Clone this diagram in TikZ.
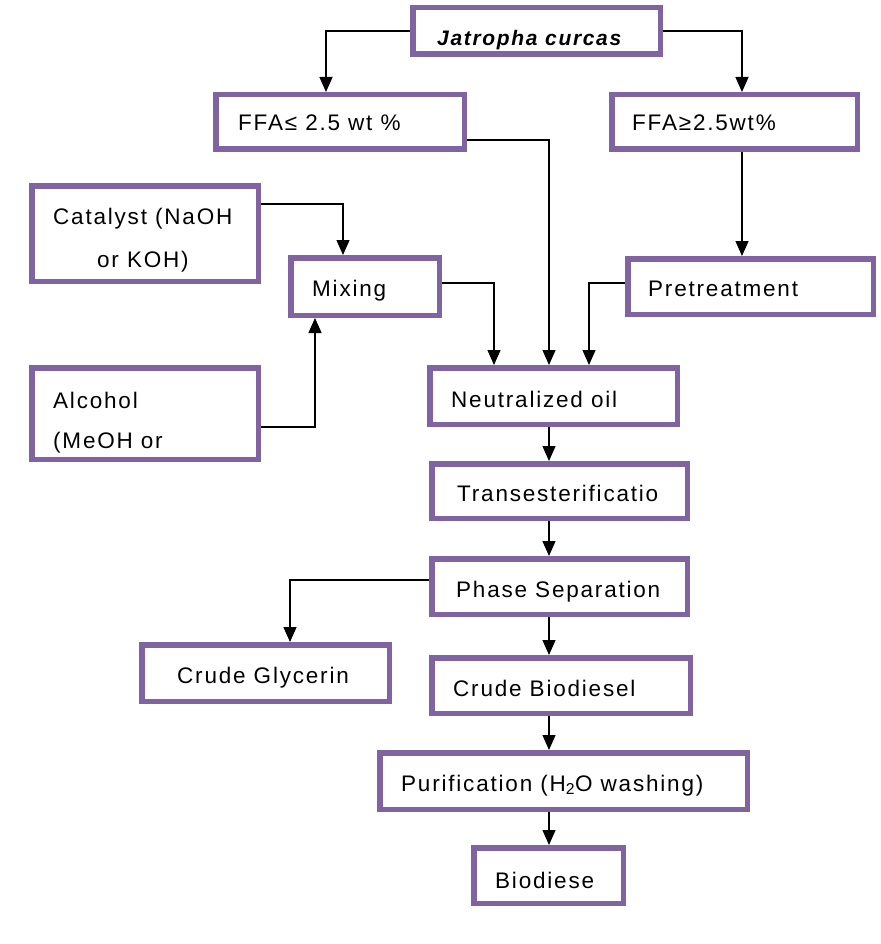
\documentclass[tikz,border=0pt]{standalone}
\usepackage{fontspec}
\setmainfont{Liberation Sans}[LetterSpace=8]
\usetikzlibrary{arrows.meta}
\definecolor{boxc}{HTML}{8064A2}
\begin{document}
\begin{tikzpicture}[x=1pt,y=-1pt,
  box/.style={draw=boxc,line width=5.5pt,rectangle,inner sep=0pt},
  txt/.style={anchor=base west,inner sep=0pt,font=\fontsize{22.5}{24}\selectfont},
  arr/.style={-{Triangle[length=15pt,width=13pt]},line width=1.3pt}]
\fill[white] (0,0) rectangle (880,944);
\useasboundingbox (0,0) rectangle (880,944);
\newcommand{\bx}[5]{\node[box,minimum width={#4-#2-5.5},minimum height={#5-#3-5.5}] (#1) at ({(#2+#4)/2},{(#3+#5)/2}) {};}
\bx{jc}{410}{5}{663}{57}
\bx{ffal}{213}{92}{467}{152}
\bx{ffag}{609}{92}{860}{152}
\bx{cat}{29}{183}{261}{284}
\bx{mix}{288}{255}{442}{318}
\bx{pre}{625}{256}{876}{317}
\bx{alc}{29}{365}{261}{462}
\bx{neu}{427}{365}{680}{427}
\bx{tra}{429}{461}{690}{521}
\bx{pha}{429}{556}{690}{617}
\bx{gly}{139}{642}{392}{704}
\bx{cbd}{429}{655}{693}{716}
\bx{pur}{377}{750}{750}{812}
\bx{bio}{471}{845}{626}{906}
\node[txt,font=\fontsize{21}{24}\selectfont\bfseries\itshape] (t1) at (437,46) {Jatropha curcas};
\node[txt] (t2) at (238,131) {FFA≤ 2.5 wt \%};
\node[txt] (t3) at (632,131) {FFA≥2.5wt\%};
\node[txt] (t4) at (53,224) {Catalyst (NaOH};
\node[txt] (t4b) at (97,267) {or KOH)};
\node[txt] (t5) at (312,296) {Mixing};
\node[txt] (t6) at (648,296) {Pretreatment};
\node[txt] (t7) at (53,408) {Alcohol};
\node[txt] (t7b) at (53,448) {(MeOH or};
\node[txt] (t8) at (451,407) {Neutralized oil};
\node[txt] (t9) at (457,501) {Transesterificatio};
\node[txt] (t10) at (456,597) {Phase Separation};
\node[txt] (t11) at (177,683) {Crude Glycerin};
\node[txt] (t12) at (453,696) {Crude Biodiesel};
\node[txt] (t13) at (401,791) {Purification (H\textsubscript{2}O washing)};
\node[txt] (t14) at (495,888) {Biodiese};
\draw[arr] (jc.west) -- (326,31) -- (326,92);
\draw[arr] (jc.east) -- (742,31) -- (742,92);
\draw[arr] (ffal.east |- 0,140) -- (549,140) -- (549,365);
\draw[arr] (742,152) -- (742,256);
\draw[arr] (pre.west |- 0,283) -- (589,283) -- (589,365);
\draw[arr] (cat.east |- 0,204) -- (343,204) -- (343,255);
\draw[arr] (alc.east |- 0,427) -- (315,427) -- (315,318);
\draw[arr] (mix.east |- 0,283) -- (494,283) -- (494,365);
\draw[arr] (549,427) -- (549,461);
\draw[arr] (549,521) -- (549,556);
\draw[arr] (pha.west |- 0,580) -- (290,580) -- (290,642);
\draw[arr] (549,617) -- (549,655);
\draw[arr] (549,716) -- (549,750);
\draw[arr] (549,812) -- (549,845);
\end{tikzpicture}
\end{document}
